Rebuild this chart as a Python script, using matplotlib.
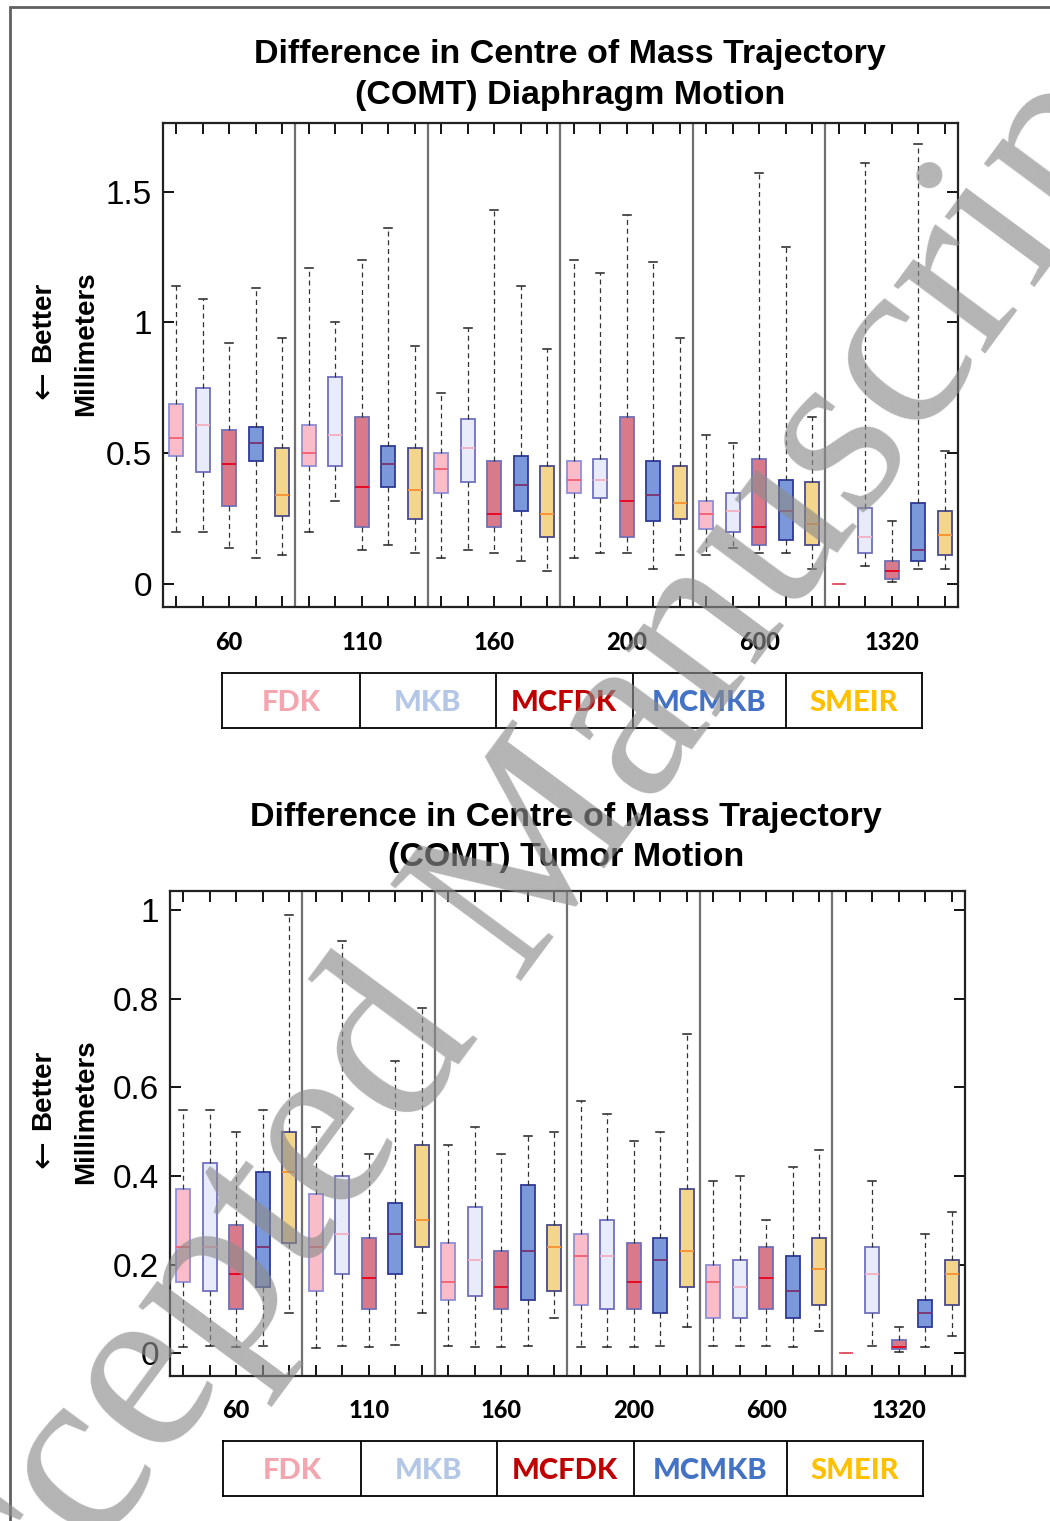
import matplotlib
matplotlib.use('Agg')
import matplotlib.pyplot as plt
from matplotlib.patches import Rectangle
from matplotlib.transforms import blended_transform_factory

#################### DATA ####################
groups = ['60', '110', '160', '200', '600', '1320']
methods = ['FDK', 'MKB', 'MCFDK', 'MCMKB', 'SMEIR']

# diaphragm motion, rows = group, cols = method
dia_hi = [[1.14, 1.09, 0.92, 1.13, 0.94],
          [1.21, 1.00, 1.24, 1.36, 0.91],
          [0.73, 0.98, 1.43, 1.14, 0.90],
          [1.24, 1.19, 1.41, 1.23, 0.94],
          [0.57, 0.54, 1.57, 1.29, 0.64],
          [0.00, 1.61, 0.24, 1.68, 0.51]]
dia_q3 = [[0.69, 0.75, 0.59, 0.60, 0.52],
          [0.61, 0.79, 0.64, 0.53, 0.52],
          [0.50, 0.63, 0.47, 0.49, 0.45],
          [0.47, 0.48, 0.64, 0.47, 0.45],
          [0.32, 0.35, 0.48, 0.40, 0.39],
          [0.00, 0.29, 0.09, 0.31, 0.28]]
dia_med = [[0.56, 0.61, 0.46, 0.54, 0.34],
           [0.50, 0.57, 0.37, 0.46, 0.36],
           [0.44, 0.52, 0.27, 0.38, 0.27],
           [0.40, 0.40, 0.32, 0.34, 0.31],
           [0.27, 0.28, 0.22, 0.28, 0.23],
           [0.00, 0.18, 0.05, 0.13, 0.19]]
dia_q1 = [[0.49, 0.43, 0.30, 0.47, 0.26],
          [0.45, 0.45, 0.22, 0.37, 0.25],
          [0.35, 0.39, 0.22, 0.28, 0.18],
          [0.35, 0.33, 0.18, 0.24, 0.25],
          [0.21, 0.20, 0.15, 0.17, 0.15],
          [0.00, 0.12, 0.02, 0.09, 0.11]]
dia_lo = [[0.20, 0.20, 0.14, 0.10, 0.11],
          [0.20, 0.32, 0.13, 0.15, 0.12],
          [0.10, 0.13, 0.12, 0.09, 0.05],
          [0.10, 0.12, 0.12, 0.06, 0.11],
          [0.11, 0.14, 0.12, 0.12, 0.06],
          [0.00, 0.07, 0.01, 0.06, 0.06]]

# tumor motion
tum_hi = [[0.55, 0.55, 0.50, 0.55, 0.99],
          [0.51, 0.93, 0.45, 0.66, 0.78],
          [0.47, 0.51, 0.45, 0.49, 0.50],
          [0.57, 0.54, 0.48, 0.50, 0.72],
          [0.39, 0.40, 0.30, 0.42, 0.46],
          [0.00, 0.39, 0.06, 0.27, 0.32]]
tum_q3 = [[0.37, 0.43, 0.29, 0.41, 0.50],
          [0.36, 0.40, 0.26, 0.34, 0.47],
          [0.25, 0.33, 0.23, 0.38, 0.29],
          [0.27, 0.30, 0.25, 0.26, 0.37],
          [0.20, 0.21, 0.24, 0.22, 0.26],
          [0.00, 0.24, 0.03, 0.12, 0.21]]
tum_med = [[0.24, 0.24, 0.18, 0.24, 0.41],
           [0.24, 0.27, 0.17, 0.27, 0.30],
           [0.16, 0.21, 0.15, 0.23, 0.24],
           [0.22, 0.22, 0.16, 0.21, 0.23],
           [0.16, 0.15, 0.17, 0.14, 0.19],
           [0.00, 0.18, 0.015, 0.09, 0.18]]
tum_q1 = [[0.16, 0.14, 0.10, 0.15, 0.25],
          [0.14, 0.18, 0.10, 0.18, 0.24],
          [0.12, 0.13, 0.10, 0.12, 0.14],
          [0.11, 0.10, 0.10, 0.09, 0.15],
          [0.08, 0.08, 0.10, 0.08, 0.11],
          [0.00, 0.09, 0.01, 0.06, 0.11]]
tum_lo = [[0.015, 0.016, 0.014, 0.016, 0.09],
          [0.012, 0.016, 0.014, 0.018, 0.09],
          [0.016, 0.015, 0.014, 0.016, 0.08],
          [0.015, 0.014, 0.014, 0.016, 0.06],
          [0.016, 0.016, 0.016, 0.014, 0.05],
          [0.000, 0.016, 0.003, 0.015, 0.04]]

#################### STYLE ####################
fills = ['#f9bcc8', '#e8ecfa', '#d97a8a', '#7b98da', '#f4d58c']
edges = ['#8f8fd8', '#7070c0', '#7070b8', '#2e3a98', '#4a4a8a']
medians = ['#f26070', '#f4b0c0', '#e8001c', '#7a3270', '#f89030']
legend_colors = ['#f4a6b0', '#b4c7e7', '#c00000', '#4472c4', '#ffc000']
legend_edges = [0, 0.1966, 0.3912, 0.5865, 0.8053, 1.0]

title_font = 'Liberation Sans'
gothic = 'Lato'


def draw_panel(ax, lo, q1, med, q3, hi):
    n = len(methods)
    for m in range(n):
        stats = []
        pos = []
        for g in range(len(groups)):
            stats.append({'whislo': lo[g][m], 'q1': q1[g][m], 'med': med[g][m],
                          'q3': q3[g][m], 'whishi': hi[g][m], 'fliers': []})
            pos.append(g * n + m + 1)
        ax.bxp(stats, positions=pos, widths=0.52, patch_artist=True,
               showfliers=False, manage_ticks=False, capwidths=0.3,
               boxprops=dict(facecolor=fills[m], edgecolor=edges[m], linewidth=1.3),
               whiskerprops=dict(color='#333333', linestyle=(0, (4, 3)), linewidth=0.9),
               capprops=dict(color='#222222', linewidth=1.1),
               medianprops=dict(color=medians[m], linewidth=1.3))
    for g in range(1, len(groups)):
        ax.axvline(g * n + 0.5, color='#707070', linewidth=1.6)
    ax.set_xlim(0.5, len(groups) * n + 0.5)
    ax.set_xticks(range(1, len(groups) * n + 1))
    ax.set_xticklabels([])
    ax.tick_params(axis='both', direction='in', length=8, width=1.3,
                   top=True, right=True, labelsize=24, pad=8)
    for s in ax.spines.values():
        s.set_linewidth(1.6)
        s.set_color('#222222')
    for g, name in enumerate(groups):
        ax.text(g * n + 3, -0.0725, name, transform=ax.get_xaxis_transform(),
                ha='center', va='center', fontsize=17, fontweight='black',
                fontfamily=gothic)
    # y label: figure x, axes y
    tr = blended_transform_factory(fig.transFigure, ax.transAxes)
    ax.text(86 / 1050, 0.544, 'Millimeters', transform=tr, rotation=90,
            ha='center', va='center', fontsize=20, fontweight='bold',
            fontfamily=title_font)
    ax.text(43 / 1050, 0.589, 'Better', transform=tr, rotation=90,
            ha='center', va='center', fontsize=20, fontweight='bold',
            fontfamily=title_font)
    ax.text(43 / 1050, 0.458, '\u2190', transform=tr, rotation=90,
            ha='center', va='center', fontsize=24, fontfamily='DejaVu Sans')


def draw_legend(lax):
    lax.set_xlim(0, 1)
    lax.set_ylim(0, 1)
    lax.set_xticks([])
    lax.set_yticks([])
    for s in lax.spines.values():
        s.set_linewidth(1.3)
    for i in range(1, len(legend_edges) - 1):
        lax.axvline(legend_edges[i], color='black', linewidth=1.3)
    for i, name in enumerate(methods):
        cx = (legend_edges[i] + legend_edges[i + 1]) / 2
        lax.text(cx, 0.46, name, ha='center', va='center', fontsize=21,
                 fontweight='black', color=legend_colors[i], fontfamily=gothic)


#################### FIGURE ####################
fig = plt.figure(figsize=(10.5, 15.21), dpi=100)

ax1 = fig.add_axes([0.1552, 0.6007, 0.7571, 0.3186])
draw_panel(ax1, dia_lo, dia_q1, dia_med, dia_q3, dia_hi)
ax1.set_ylim(-0.088, 1.763)
ax1.set_yticks([0, 0.5, 1, 1.5])
ax1.set_yticklabels(['0', '0.5', '1', '1.5'], fontfamily=title_font)
fig.text(0.543, 0.9505, 'Difference in Centre of Mass Trajectory\n(COMT) Diaphragm Motion',
         ha='center', va='center', fontsize=24.5, fontweight='bold',
         fontfamily=title_font, linespacing=1.4)

ax2 = fig.add_axes([0.1619, 0.0955, 0.7571, 0.3189])
draw_panel(ax2, tum_lo, tum_q1, tum_med, tum_q3, tum_hi)
ax2.set_ylim(-0.0505, 1.044)
ax2.set_yticks([0, 0.2, 0.4, 0.6, 0.8, 1.0])
ax2.set_yticklabels(['0', '0.2', '0.4', '0.6', '0.8', '1'], fontfamily=title_font)
fig.text(0.539, 0.4495, 'Difference in Centre of Mass Trajectory\n(COMT) Tumor Motion',
         ha='center', va='center', fontsize=24.5, fontweight='bold',
         fontfamily=title_font, linespacing=1.4)

lax1 = fig.add_axes([0.2114, 0.5214, 0.6667, 0.0362])
draw_legend(lax1)
lax2 = fig.add_axes([0.2124, 0.01644, 0.6667, 0.0362])
draw_legend(lax2)

# page frame (left and top edge)
fig.patches.append(Rectangle((10 / 1050, -0.1), 1.2, 1.1 - 7 / 1521,
                             transform=fig.transFigure, fill=False,
                             edgecolor='#606060', linewidth=2))

# watermark
fig.text(508 / 1050, 1 - 898 / 1521, 'Accepted Manuscript', rotation=53.5,
         ha='center', va='center', fontsize=178, fontfamily='Liberation Serif',
         color='#8c8c8c', alpha=0.65, zorder=10, rotation_mode='anchor')

fig.savefig('out.png', dpi=100)
